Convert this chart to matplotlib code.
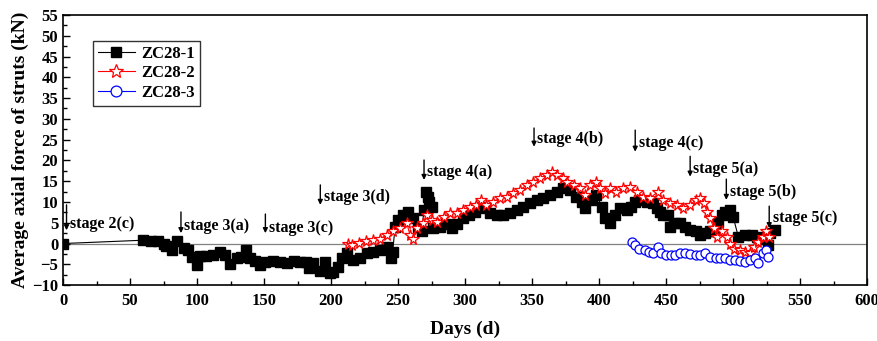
import matplotlib.pyplot as plt
from matplotlib.ticker import MultipleLocator

plt.rcParams['font.family'] = ['Liberation Serif', 'DejaVu Serif']
plt.rcParams['font.weight'] = 'bold'

# ZC28-1 (black squares)
day1 = [0, 60, 66, 71, 75, 77, 81, 85, 90, 93, 96, 99.7, 102, 107, 112, 117, 121, 124.6,
        129.6, 133, 136.6, 139.5, 143, 147, 151, 157, 162, 167, 172, 177, 181, 183.6, 186.6,
        192, 195.5, 199, 201.5, 205, 208, 211.7, 216.5, 221.6, 226.6, 231.5, 236.6, 241.5,
        245, 246, 247.8, 250, 254, 257.5, 261, 265, 267.6, 269.4, 271, 272.5, 273.4, 275,
        276, 281, 286, 290, 294, 298.5, 303, 307.5, 311, 315, 318.7, 323.5, 328.5, 333.5,
        338.6, 343.6, 348.5, 353.5, 358.5, 363.4, 368.4, 373, 378, 383, 387, 389.5, 394.5,
        398, 402, 404.5, 408, 412, 415.7, 420.6, 424, 427, 430, 435.6, 440.5, 443, 445.5,
        448, 451.7, 453, 457, 460.4, 464, 468, 472, 475, 479, 483, 486.6, 489, 491.5, 494,
        497.8, 500, 504, 509, 514, 517.6, 522.6, 526, 527.5, 531]
val1 = [0, 0.8, 0.7, 0.5, 0, -0.5, -1.6, 0.6, -1, -1.5, -3.2, -5.2, -3, -3, -2.8, -2, -2.8, -5,
        -3.5, -3.2, -1.6, -3.5, -4.2, -5.2, -4.5, -4.3, -4.5, -4.8, -4.2, -4.5, -4.5, -6, -4.8,
        -6.6, -4.5, -7.1, -6.8, -5.6, -3.5, -2.3, -4, -3.5, -2.3, -2, -1.6, -0.8,
        -3.5, -2, 4, 5.6, 6.9, 7.7, 6.1, 4, 2.9, 8, 12.5, 11.3, 10, 8.9,
        3.7, 4, 4.7, 3.7, 4.7, 6.1, 6.9, 7.7, 8.9, 8.5, 7.3, 6.9, 6.9, 7.3,
        8.1, 8.9, 9.7, 10.5, 10.9, 11.7, 12.5, 13.3, 12.9, 11.3, 10.1, 8.5, 10.5,
        11.7, 8.9, 6.1, 4.9, 6.9, 8.5, 8.1, 8.9, 10, 10.5, 10, 9.7, 8.5, 7.7,
        6.9, 6.9, 4, 4.9, 4.9, 4, 3.2, 2.9, 2, 2.5, 2.9, 2.9, 5.3, 6.9, 7.7,
        8.1, 6.5, 1.6, 2, 2, 1.6, 1.2, -0.4, 2.5, 3.2]

# ZC28-2 (red stars)
day2 = [212.7, 216, 221, 226, 231.5, 236.6, 241.5, 246.5, 251.6, 256.5, 259, 261, 264, 269,
        271.5, 275, 279, 284, 289, 294, 298.5, 303.5, 308.5, 312, 316, 321, 326, 331, 336,
        341, 346, 351, 356, 361, 364.6, 368.4, 373, 376, 381, 386, 389.5, 393, 398, 401,
        404.5, 408, 413, 418, 423, 428, 433, 438, 444, 448, 453, 458, 463, 468, 472, 475,
        478, 480.6, 483, 485.6, 488, 491.7, 495.5, 498, 500.6, 505.5, 509, 513, 515.6, 519,
        522, 524.5, 527]
val2 = [0, -0.3, 0.1, 0.5, 0.8, 1.2, 2, 2.9, 3.7, 4.9, 2, 1.2, 3.7, 4.9,
        6.9, 5.7, 5.3, 6.5, 7.3, 7.3, 8.1, 8.9, 9.3, 10.5, 9.3, 10.1, 10.9, 11.3, 12.1,
        12.9, 14.1, 14.9, 15.7, 16.5, 17.3, 16.5, 15.7, 14.9, 14.1, 13.3, 11.7, 14.1, 14.9, 13.3,
        12.1, 13.3, 12.5, 13.3, 13.7, 12.5, 11.3, 10.9, 12.5, 10.5, 9.7, 9.3, 8.5, 9.3, 10.5, 10.9,
        9.7, 7.7, 6.1, 3.7, 1.6, 2.9, 1.6, 0, -1.2, -1.6, -2, -2.4, -0.8, 0.4,
        1.6, 2.9, 1.6]

# ZC28-3 (blue circles)
day3 = [424.6, 427, 430, 434, 437.6, 440, 444, 446, 450, 453.5, 457, 460.5, 464, 468, 472,
        475, 479, 483, 487, 490, 494, 498, 501.5, 505.5, 509, 513, 516.6, 519, 522, 524.6, 526]
val3 = [0.4, -0.4, -1.2, -1.6, -2, -2.4, -0.8, -2.4, -2.8, -2.8, -2.8, -2.4, -2.4, -2.6, -2.8,
        -2.8, -2.2, -3.2, -3.6, -3.6, -3.6, -4, -4, -4.2, -4.4, -4, -3.6, -4.8, -2.4, -1.6, -3.2]

# stage annotations: label, day, arrow top, arrow tip, text y
stage_labels = ['stage 2(c)', 'stage 3(a)', 'stage 3(c)', 'stage 3(d)', 'stage 4(a)',
                'stage 4(b)', 'stage 4(c)', 'stage 5(a)', 'stage 5(b)', 'stage 5(c)']
stage_days = [2.6, 88, 151, 192, 269.4, 351.5, 427, 468, 495, 527]
stage_top = [9.3, 7.6, 7.1, 14.1, 20.1, 27.8, 27.3, 21, 15.5, 9]
stage_tip = [3.2, 2.5, 2.5, 9.3, 15.3, 23.3, 22.1, 16.1, 10.5, 3.7]
stage_texty = [4.6, 4.3, 3.8, 11.1, 17.3, 25.2, 24.1, 18.0, 12.5, 6.2]

fig = plt.figure(figsize=(8.78, 3.41), dpi=100)
ax = fig.add_axes([0.0718, 0.164, 0.9157, 0.792])

ax.axhline(0, color='#808080', lw=0.9, zorder=1)

ax.plot(day1, val1, color='black', lw=0.8, marker='s', ms=6.5, mfc='black', mec='black',
        label='ZC28-1', zorder=3)
ax.plot(day2, val2, color='red', lw=0.8, marker='*', ms=8.5, mfc='white', mec='red', mew=0.9,
        label='ZC28-2', zorder=4)
ax.plot(day3, val3, color='blue', lw=0.8, marker='o', ms=6.5, mfc='white', mec='blue', mew=0.9,
        label='ZC28-3', zorder=4)

for lab, d, top, tip, ty in zip(stage_labels, stage_days, stage_top, stage_tip, stage_texty):
    ax.annotate('', xy=(d, tip), xytext=(d, top),
                arrowprops=dict(arrowstyle='-|>', color='black', lw=1, mutation_scale=7,
                                shrinkA=0, shrinkB=0))
    ax.text(d + 2.5, ty, lab, fontsize=11.5, fontweight='bold', va='center', ha='left')

ax.set_xlim(0, 600)
ax.set_ylim(-10, 55)
ax.xaxis.set_major_locator(MultipleLocator(50))
ax.xaxis.set_minor_locator(MultipleLocator(25))
ax.yaxis.set_major_locator(MultipleLocator(5))
ax.yaxis.set_minor_locator(MultipleLocator(2.5))
ax.tick_params(which='both', direction='in', labelsize=12)
ax.tick_params(which='major', length=5, width=1)
ax.tick_params(which='minor', length=3, width=1)
ax.tick_params(axis='x', pad=6)
for lab in ax.get_xticklabels() + ax.get_yticklabels():
    lab.set_fontweight('bold')
for s in ax.spines.values():
    s.set_linewidth(1.2)

ax.set_xlabel('Days (d)', fontsize=14, fontweight='bold', labelpad=8)
ax.set_ylabel('Average axial force of struts (kN)', fontsize=14, fontweight='bold', labelpad=2)

leg = ax.legend(loc='upper left', bbox_to_anchor=(0.027, 0.935), fontsize=12, frameon=True,
                fancybox=False, edgecolor='black', handlelength=2.2, borderpad=0.3,
                labelspacing=0.2, handletextpad=0.4, markerscale=1.2)
leg.get_frame().set_linewidth(1)
for t in leg.get_texts():
    t.set_fontweight('bold')

fig.savefig('out.png', dpi=100)
